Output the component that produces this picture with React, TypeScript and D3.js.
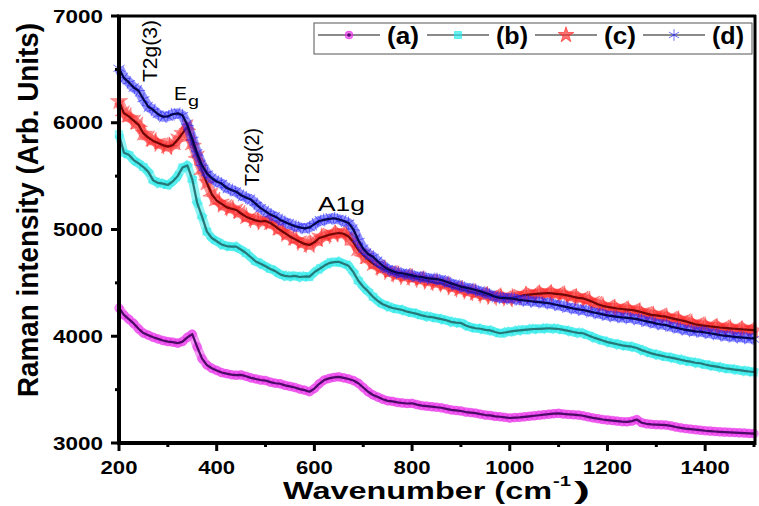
import React from 'react';
import * as d3 from 'd3';

const wavenumbers: number[] = d3.range(200, 1501, 10);

const seriesA: number[] = [
  4265, 4200, 4160, 4120, 4070, 4030, 4010, 3990, 3975, 3960,
  3950, 3945, 3935, 3950, 3990, 4020, 3900, 3790, 3730, 3700,
  3680, 3660, 3650, 3640, 3635, 3638, 3625, 3610, 3600, 3590,
  3585, 3570, 3560, 3555, 3540, 3530, 3520, 3505, 3495, 3480,
  3510, 3555, 3590, 3605, 3615, 3620, 3610, 3600, 3585, 3560,
  3520, 3480, 3450, 3430, 3410, 3395, 3390, 3380, 3375, 3370,
  3372, 3360, 3350, 3345, 3340, 3335, 3330, 3320, 3310, 3305,
  3300, 3290, 3285, 3280, 3270, 3262, 3258, 3250, 3246, 3240,
  3234, 3238, 3240, 3245, 3250, 3255, 3260, 3265, 3270, 3275,
  3278, 3272, 3268, 3265, 3262, 3255, 3245, 3235, 3228, 3220,
  3215, 3210, 3205, 3200, 3198, 3205, 3220, 3190, 3180, 3175,
  3172, 3170, 3168, 3160, 3150, 3142, 3135, 3130, 3125, 3120,
  3115, 3112, 3108, 3105, 3102, 3100, 3098, 3095, 3093, 3090,
  3088,
];

const seriesB: number[] = [
  5890, 5720, 5700, 5650, 5620, 5585, 5540, 5460, 5436, 5430,
  5417, 5450, 5500, 5580, 5600, 5470, 5250, 5120, 4980, 4920,
  4890, 4860, 4845, 4840, 4839, 4810, 4780, 4740, 4700, 4680,
  4655, 4630, 4610, 4580, 4565, 4560, 4565, 4555, 4560, 4558,
  4600, 4630, 4660, 4685, 4695, 4698, 4680, 4660, 4600, 4520,
  4464, 4420, 4370, 4330, 4300, 4280, 4265, 4255, 4246, 4230,
  4220, 4210, 4195, 4185, 4180, 4170, 4160, 4150, 4135, 4128,
  4124, 4100, 4085, 4075, 4070, 4060, 4055, 4040, 4028, 4035,
  4043, 4050, 4055, 4060, 4065, 4068, 4070, 4072, 4075, 4072,
  4068, 4060, 4050, 4040, 4032, 4028, 4010, 3990, 3975, 3960,
  3945, 3935, 3925, 3915, 3908, 3902, 3890, 3870, 3855, 3840,
  3828, 3818, 3808, 3800, 3790, 3780, 3770, 3762, 3752, 3747,
  3735, 3725, 3718, 3710, 3700, 3695, 3688, 3682, 3676, 3670,
  3665,
];

const seriesC: number[] = [
  6200, 6090, 6060, 6020, 5980, 5900, 5860, 5830, 5810, 5790,
  5776, 5790, 5840, 5900, 5963, 5800, 5683, 5550, 5435, 5330,
  5270, 5240, 5210, 5195, 5183, 5150, 5120, 5100, 5085, 5075,
  5080, 5061, 5030, 4995, 4965, 4935, 4910, 4885, 4865, 4855,
  4880, 4920, 4935, 4950, 4960, 4967, 4960, 4935, 4880, 4810,
  4760, 4720, 4680, 4652, 4630, 4610, 4590, 4575, 4565, 4558,
  4550, 4540, 4530, 4520, 4510, 4500, 4496, 4480, 4465, 4450,
  4440, 4430, 4415, 4405, 4395, 4385, 4378, 4372, 4371, 4365,
  4355, 4365, 4375, 4385, 4390, 4395, 4400, 4402, 4405, 4400,
  4395, 4390, 4380, 4370, 4360, 4355, 4340, 4320, 4300, 4285,
  4275, 4268, 4260, 4255, 4250, 4246, 4238, 4225, 4212, 4200,
  4195, 4188, 4183, 4170, 4160, 4150, 4140, 4125, 4112, 4105,
  4098, 4092, 4088, 4082, 4078, 4074, 4070, 4066, 4063, 4060,
  4058,
];

const seriesD: number[] = [
  6510, 6420, 6380, 6330, 6300, 6220, 6150, 6120, 6080, 6057,
  6060, 6080, 6088, 6070, 5980, 5850, 5714, 5600, 5526, 5480,
  5450, 5430, 5390, 5370, 5354, 5320, 5300, 5280, 5240, 5200,
  5170, 5140, 5120, 5090, 5070, 5050, 5030, 5020, 5011, 5020,
  5050, 5080, 5090, 5100, 5105, 5095, 5080, 5060, 5000, 4900,
  4820, 4770, 4745, 4700, 4660, 4630, 4610, 4595, 4590, 4580,
  4570, 4560, 4555, 4545, 4540, 4535, 4527, 4510, 4495, 4480,
  4465, 4455, 4445, 4433, 4420, 4405, 4390, 4370, 4360, 4358,
  4355, 4350, 4340, 4335, 4330, 4325, 4320, 4315, 4309, 4300,
  4290, 4280, 4270, 4260, 4252, 4246, 4235, 4225, 4215, 4205,
  4195, 4188, 4182, 4176, 4172, 4168, 4160, 4150, 4140, 4130,
  4118, 4110, 4105, 4090, 4080, 4070, 4060, 4052, 4046, 4043,
  4035, 4028, 4020, 4012, 4005, 4000, 3995, 3990, 3986, 3982,
  3980,
];

const seriesLabels = ['(a)', '(b)', '(c)', '(d)'];
const xTicks = [200, 400, 600, 800, 1000, 1200, 1400];
const xMinorTicks = [300, 500, 700, 900, 1100, 1300, 1500];
const yTicks = [3000, 4000, 5000, 6000, 7000];
const yMinorTicks = [3500, 4500, 5500, 6500];

const styles = [
  { halo: '#e92ee9', line: '#4a0a66', symbol: d3.symbolCircle, size: 60, fill: true, hw: 9 },
  { halo: '#22eaea', line: '#267878', symbol: d3.symbolSquare, size: 60, fill: true, hw: 9 },
  { halo: '#ff2a2a', line: '#700606', symbol: d3.symbolStar, size: 95, fill: true, hw: 10 },
  { halo: '#2424ff', line: '#06064a', symbol: d3.symbolAsterisk, size: 120, fill: false, hw: 10 },
];

const FONT = 'Liberation Sans, Arial, sans-serif';

export default function App() {
  const x = d3.scaleLinear().domain([200, 1500]).range([119, 754]);
  const y = d3.scaleLinear().domain([3000, 7000]).range([443, 16]);
  const all = [seriesA, seriesB, seriesC, seriesD];
  const lineGen = d3
    .line<number>()
    .x((_, i) => x(wavenumbers[i]))
    .y((v) => y(v));

  const legendX = [318, 427, 535, 643];

  return (
    <svg
      width={759}
      height={506}
      style={{ position: 'absolute', left: 0, top: 0, background: '#fff' }}
      fontFamily={FONT}
    >
      <rect x={0} y={0} width={759} height={506} fill="#fff" />
      {all.map((s, si) => {
        const st = styles[si];
        const sym = d3.symbol().type(st.symbol).size(st.size)();
        return (
          <g key={si}>
            <path d={lineGen(s) || ''} fill="none" stroke={st.halo} strokeWidth={st.hw} strokeOpacity={0.5} strokeLinejoin="round" />
            {s.map((v, i) => (
              <path
                key={i}
                d={sym || ''}
                transform={`translate(${x(wavenumbers[i])},${y(v)}) rotate(${(i * 37) % 60})`}
                fill={st.fill ? st.halo : 'none'}
                fillOpacity={0.5}
                stroke={st.halo}
                strokeOpacity={0.6}
                strokeWidth={st.fill ? 0.5 : 1}
              />
            ))}
            <path d={lineGen(s) || ''} fill="none" stroke={st.line} strokeWidth={2.2} strokeLinejoin="round" />
          </g>
        );
      })}

      {/* frame */}
      <line x1={119} x2={119} y1={15} y2={445} stroke="#000" strokeWidth={4} />
      <line x1={117} x2={756} y1={443} y2={443} stroke="#000" strokeWidth={4} />
      <line x1={117} x2={756} y1={16} y2={16} stroke="#000" strokeWidth={3} />
      <line x1={755} x2={755} y1={15} y2={445} stroke="#000" strokeWidth={3} />

      {/* y ticks */}
      {yTicks.map((t) => (
        <g key={t}>
          <line x1={111} x2={119} y1={y(t)} y2={y(t)} stroke="#000" strokeWidth={3} />
          <text x={103} y={y(t) + 6.5} textAnchor="end" fontSize={18} fontWeight="bold" textLength={50} lengthAdjust="spacingAndGlyphs">
            {t}
          </text>
        </g>
      ))}
      {yMinorTicks.map((t) => (
        <line key={t} x1={115} x2={119} y1={y(t)} y2={y(t)} stroke="#000" strokeWidth={3} />
      ))}

      {/* x ticks */}
      {xTicks.map((t) => (
        <g key={t}>
          <line x1={x(t)} x2={x(t)} y1={443} y2={451} stroke="#000" strokeWidth={3} />
          <text
            x={x(t)}
            y={473.5}
            textAnchor="middle"
            fontSize={18}
            fontWeight="bold"
            textLength={String(t).length * 12.3}
            lengthAdjust="spacingAndGlyphs"
          >
            {t}
          </text>
        </g>
      ))}
      {xMinorTicks.map((t) => (
        <line key={t} x1={x(t)} x2={x(t)} y1={443} y2={447} stroke="#000" strokeWidth={3} />
      ))}

      {/* axis titles */}
      <text
        transform="translate(38,210) rotate(-90)"
        textAnchor="middle"
        fontSize={29}
        fontWeight="bold"
        textLength={374}
        lengthAdjust="spacingAndGlyphs"
      >
        Raman intensity (Arb. Units)
      </text>
      <text x={283} y={499} fontSize={24} fontWeight="bold" textLength={269} lengthAdjust="spacingAndGlyphs">
        Wavenumber (cm
      </text>
      <text x={553} y={486} fontSize={15} fontWeight="bold" textLength={18} lengthAdjust="spacingAndGlyphs">
        -1
      </text>
      <text x={574} y={499} fontSize={24} fontWeight="bold" textLength={16} lengthAdjust="spacingAndGlyphs">
        )
      </text>

      {/* annotations */}
      <text transform="translate(157,82) rotate(-90)" fontSize={21} textLength={62} lengthAdjust="spacingAndGlyphs">
        T2g(3)
      </text>
      <text x={174} y={100} fontSize={19} textLength={13} lengthAdjust="spacingAndGlyphs">
        E
      </text>
      <text x={188} y={106} fontSize={15} textLength={11} lengthAdjust="spacingAndGlyphs">
        g
      </text>
      <text transform="translate(259,186) rotate(-90)" fontSize={21} textLength={58} lengthAdjust="spacingAndGlyphs">
        T2g(2)
      </text>
      <text x={318} y={211} fontSize={21} textLength={47} lengthAdjust="spacingAndGlyphs">
        A1g
      </text>

      {/* legend */}
      <rect x={314} y={23} width={438} height={31} fill="#fff" stroke="#555" strokeWidth={1} />
      {seriesLabels.map((lab, i) => {
        const st = styles[i];
        const lx = legendX[i];
        const sym = d3.symbol().type(st.symbol).size(st.size * 0.8)();
        return (
          <g key={lab}>
            <line x1={lx} x2={lx + 62} y1={35} y2={35} stroke="#8a8a8a" strokeWidth={2} />
            <path
              d={sym || ''}
              transform={`translate(${lx + 31},35)`}
              fill={st.fill ? st.halo : 'none'}
              fillOpacity={0.65}
              stroke={st.halo}
              strokeOpacity={0.65}
            />
            {i === 0 && <circle cx={lx + 31} cy={35} r={1.8} fill="#4a0a66" />}
            <text x={lx + 69} y={44} fontSize={24} fontWeight="bold" textLength={32} lengthAdjust="spacingAndGlyphs">
              {lab}
            </text>
          </g>
        );
      })}
    </svg>
  );
}
